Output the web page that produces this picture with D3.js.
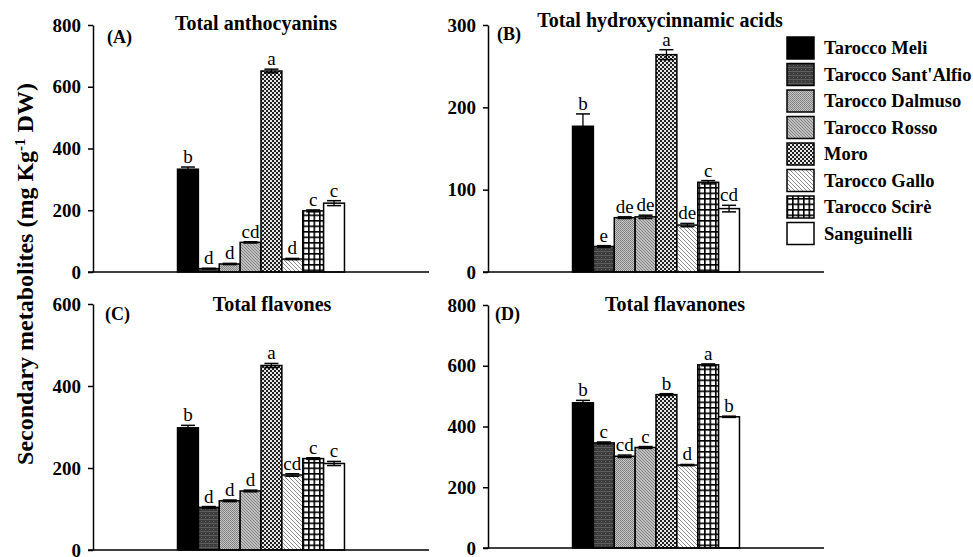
<!DOCTYPE html>
<html><head><meta charset="utf-8">
<script src="https://cdn.jsdelivr.net/npm/d3@7"></script>
<style>
html,body{margin:0;padding:0;background:#fff;}
svg{display:block;}
text{font-family:"Liberation Serif","Times New Roman",serif;fill:#000;}
</style></head>
<body>
<svg id="chart" width="973" height="557"></svg>
<script>
// ---------- DATA ----------
const categories = ["Tarocco Meli","Tarocco Sant'Alfio","Tarocco Dalmuso","Tarocco Rosso","Moro","Tarocco Gallo","Tarocco Scirè","Sanguinelli"];

const anthocyanins      = [333, 11, 26, 96, 651, 42, 198, 223];
const anthocyaninsErr   = [7, 1, 2, 2, 6, 2, 3, 8];
const anthocyaninsSig   = ["b","d","d","cd","a","d","c","c"];

const hydroxycinnamic    = [177, 31, 66, 67, 264, 57, 109, 77];
const hydroxycinnamicErr = [15, 1, 1, 2, 6, 2, 2, 4];
const hydroxycinnamicSig = ["b","e","de","de","a","de","c","cd"];

const flavones    = [298, 104, 120, 144, 450, 183, 223, 211];
const flavonesErr = [6, 2, 2, 2, 5, 3, 2, 5];
const flavonesSig = ["b","d","d","d","a","cd","c","c"];

const flavanones    = [478, 346, 302, 331, 505, 273, 603, 432];
const flavanonesErr = [8, 3, 4, 3, 3, 2, 3, 2];
const flavanonesSig = ["b","c","cd","c","b","d","a","b"];

const ticksA = [0,200,400,600,800];
const ticksB = [0,100,200,300];
const ticksC = [0,200,400,600];
const ticksD = [0,200,400,600,800];

const panelTitles = ["Total anthocyanins","Total hydroxycinnamic acids","Total flavones","Total flavanones"];
const panelTags = ["(A)","(B)","(C)","(D)"];
const yLabel = "Secondary metabolites (mg Kg";

// ---------- CHART ----------
const svg = d3.select("#chart");
const defs = svg.append("defs");

function pat(id, w, h, draw){
  const p = defs.append("pattern").attr("id", id).attr("patternUnits","userSpaceOnUse")
    .attr("width", w).attr("height", h);
  draw(p);
}
pat("pSant", 4, 4, p => {
  p.append("rect").attr("width",4).attr("height",4).attr("fill","#3c3c3c");
  p.append("rect").attr("x",0).attr("y",3).attr("width",4).attr("height",1).attr("fill","#5e5e5e");
  p.append("rect").attr("x",1).attr("y",1).attr("width",1).attr("height",1).attr("fill","#666");
});
pat("pDalm", 2, 2, p => {
  p.append("rect").attr("width",2).attr("height",2).attr("fill","#c4c4c4");
  p.append("rect").attr("width",1).attr("height",1).attr("fill","#808080");
  p.append("rect").attr("x",1).attr("y",1).attr("width",1).attr("height",1).attr("fill","#8a8a8a");
});
pat("pRosso", 3, 3, p => {
  p.append("rect").attr("width",3).attr("height",3).attr("fill","#bdbdbd");
  p.append("rect").attr("x",0).attr("y",0).attr("width",1).attr("height",1).attr("fill","#888");
  p.append("rect").attr("x",1).attr("y",1).attr("width",1).attr("height",1).attr("fill","#888");
  p.append("rect").attr("x",2).attr("y",2).attr("width",1).attr("height",1).attr("fill","#888");
});
pat("pMoro", 4, 4, p => {
  p.append("rect").attr("width",4).attr("height",4).attr("fill","#e6e6e6");
  p.append("rect").attr("x",0).attr("y",0).attr("width",2).attr("height",2).attr("fill","#222");
  p.append("rect").attr("x",2).attr("y",2).attr("width",2).attr("height",2).attr("fill","#222");
});
pat("pGallo", 4, 4, p => {
  p.append("rect").attr("width",4).attr("height",4).attr("fill","#fff");
  p.append("path").attr("d","M-1,-1 L5,5 M-1,3 L1,5 M3,-1 L5,1").attr("stroke","#8c8c8c").attr("stroke-width",1);
});
pat("pScire", 5.5, 5.5, p => {
  p.append("rect").attr("width",5.5).attr("height",5.5).attr("fill","#fff");
  p.append("rect").attr("x",0).attr("y",0).attr("width",1.6).attr("height",5.5).attr("fill","#000");
  p.append("rect").attr("x",0).attr("y",0).attr("width",5.5).attr("height",1.6).attr("fill","#000");
});

const fills = ["#000","url(#pSant)","url(#pDalm)","url(#pRosso)","url(#pMoro)","url(#pGallo)","url(#pScire)","#fff"];
const color = d3.scaleOrdinal().domain(categories).range(fills);

const panels = [
  {vals: anthocyanins, err: anthocyaninsErr, sig: anthocyaninsSig, ticks: ticksA, max: 800, x0: 93, y0: 272, yTop: 25, titleX: 256, titleY: 24, tagX: 107, tagY: 37},
  {vals: hydroxycinnamic, err: hydroxycinnamicErr, sig: hydroxycinnamicSig, ticks: ticksB, max: 300, x0: 488, y0: 272, yTop: 25, titleX: 660, titleY: 21, tagX: 497, tagY: 34},
  {vals: flavones, err: flavonesErr, sig: flavonesSig, ticks: ticksC, max: 600, x0: 93, y0: 550, yTop: 304, titleX: 272, titleY: 305, tagX: 105, tagY: 314},
  {vals: flavanones, err: flavanonesErr, sig: flavanonesSig, ticks: ticksD, max: 800, x0: 488, y0: 548, yTop: 305, titleX: 675, titleY: 305, tagX: 495, tagY: 314}
];

panels.forEach((P, i) => {
  const g = svg.append("g");
  const y = d3.scaleLinear().domain([0, P.max]).range([P.y0, P.yTop]);
  const x = d3.scaleBand().domain(categories).range([P.x0, P.x0 + 336]).paddingInner(0).paddingOuter(4.05);

  g.selectAll("rect.bar").data(categories).join("rect")
    .attr("x", d => x(d)).attr("width", x.bandwidth())
    .attr("y", (d, j) => y(P.vals[j])).attr("height", (d, j) => P.y0 - y(P.vals[j]))
    .attr("fill", d => color(d)).attr("stroke", "#000").attr("stroke-width", 1.5);

  const cap = 7;
  categories.forEach((c, j) => {
    const cx = x(c) + x.bandwidth() / 2;
    const hi = y(P.vals[j] + P.err[j]), lo = y(P.vals[j] - P.err[j]);
    g.append("line").attr("x1", cx).attr("x2", cx).attr("y1", hi).attr("y2", lo).attr("stroke","#000").attr("stroke-width",1.3);
    g.append("line").attr("x1", cx - cap).attr("x2", cx + cap).attr("y1", hi).attr("y2", hi).attr("stroke","#000").attr("stroke-width",1.5);
    g.append("line").attr("x1", cx - cap).attr("x2", cx + cap).attr("y1", lo).attr("y2", lo).attr("stroke","#000").attr("stroke-width",1.5);
    g.append("text").attr("x", cx).attr("y", hi - 4).attr("text-anchor","middle")
      .attr("font-size", 19).text(P.sig[j]);
  });

  const ya = d3.axisLeft(y).tickValues(P.ticks).tickSize(5).tickSizeOuter(0).tickPadding(7).tickFormat(d3.format("d"));
  const yg = g.append("g").attr("transform", `translate(${P.x0},0)`).call(ya);
  yg.select(".domain").attr("stroke-width", 1.5);
  yg.selectAll(".tick line").attr("stroke-width", 1.5);
  yg.selectAll("text").attr("font-size", 19).attr("font-weight", "bold").style("font-family", "'Liberation Serif',serif");

  g.append("line").attr("x1", P.x0 - 5).attr("x2", P.x0 + 336).attr("y1", P.y0).attr("y2", P.y0)
    .attr("stroke", "#000").attr("stroke-width", 1.5);

  g.append("text").attr("x", P.titleX).attr("y", P.titleY).attr("dy","0.32em").attr("text-anchor","middle")
    .attr("font-size", 20).attr("font-weight","bold").text(panelTitles[i]);
  g.append("text").attr("x", P.tagX).attr("y", P.tagY).attr("dy","0.35em")
    .attr("font-size", 18).attr("font-weight","bold").text(panelTags[i]);
});

const yl = svg.append("text").attr("transform","translate(25,274) rotate(-90)").attr("text-anchor","middle")
  .attr("dy","0.35em").attr("font-size", 24).attr("font-weight","bold");
yl.append("tspan").text(yLabel);
yl.append("tspan").attr("dy", -8).attr("font-size", 15).text("-1");
yl.append("tspan").attr("dy", 8).text(" DW)");

const lg = svg.append("g");
categories.forEach((c, j) => {
  const yy = 37 + j * 26.5;
  lg.append("rect").attr("x", 787).attr("y", yy).attr("width", 27).attr("height", 22)
    .attr("fill", color(c)).attr("stroke", "#000").attr("stroke-width", 1.5);
  lg.append("text").attr("x", 824).attr("y", yy + 11).attr("dy", "0.35em")
    .attr("font-size", 18.5).attr("font-weight", "bold").text(c);
});
</script>
</body></html>
